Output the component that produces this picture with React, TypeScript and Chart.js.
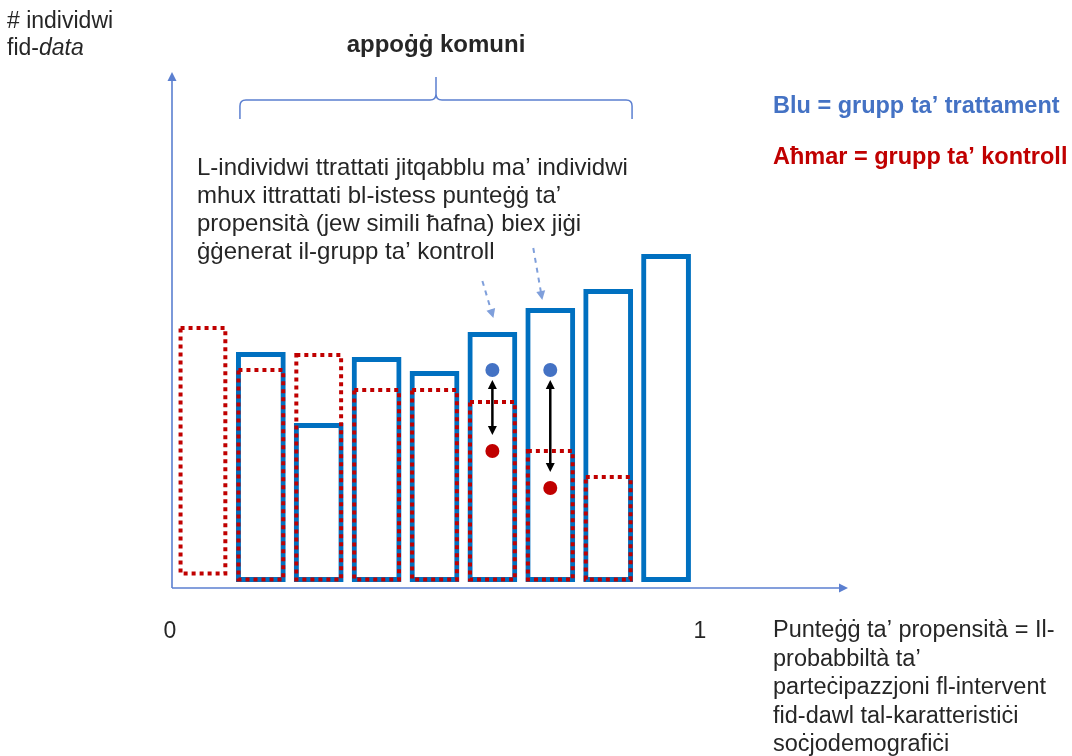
import React, { useEffect, useRef } from 'react';
import { Chart, registerables } from 'chart.js';

Chart.register(...registerables);

// Propensity-score bins (midpoints of 9 equal bins between 0 and 1)
const categories = ['0.06', '0.17', '0.28', '0.39', '0.50', '0.61', '0.72', '0.83', '0.94'];
// Number of individuals per bin (arbitrary units)
const treatedCounts = [null, 23.0, 15.9, 22.5, 21.1, 25.0, 27.4, 29.3, 32.8];
const controlCounts = [25.6, 21.4, 22.9, 19.4, 19.4, 18.2, 13.3, 10.7, null];
// Example matched individuals
const matchedTreated = [null, null, null, null, null, 21.2, 21.2, null, null];
const matchedControl = [null, null, null, null, null, 13.1, 9.4, null, null];
const scoreTicks = [0, 1];

const yTitle = ['# individwi', 'fid-'];
const yTitleItalic = 'data';
const braceLabel = 'appoġġ komuni';
const noteLines = [
  'L-individwi ttrattati jitqabblu ma’ individwi',
  'mhux ittrattati bl-istess punteġġ ta’',
  'propensità (jew simili ħafna) biex jiġi',
  'ġġenerat il-grupp ta’ kontroll',
];
const legendBlue = 'Blu = grupp ta’ trattament';
const legendRed = 'Aħmar = grupp ta’ kontroll';
const xTitleLines = [
  'Punteġġ ta’ propensità = Il-',
  'probabbiltà ta’',
  'parteċipazzjoni fl-intervent',
  'fid-dawl tal-karatteristiċi',
  'soċjodemografiċi',
];

const FONT = '"Liberation Sans", Arial, sans-serif';
const BLUE = '#0070C0';
const RED = '#C00000';
const AXIS = '#5B7FD0';
const TEXT = '#262626';

function arrowHead(ctx: CanvasRenderingContext2D, x1: number, y1: number, x2: number, y2: number, len: number, half: number) {
  const a = Math.atan2(y2 - y1, x2 - x1);
  const c = Math.cos(a);
  const s = Math.sin(a);
  ctx.beginPath();
  ctx.moveTo(x2, y2);
  ctx.lineTo(x2 - len * c + half * s, y2 - len * s - half * c);
  ctx.lineTo(x2 - len * c - half * s, y2 - len * s + half * c);
  ctx.closePath();
  ctx.fill();
}

const decorPlugin = {
  id: 'decor',
  beforeDatasetsDraw(chart: any) {
    const ctx: CanvasRenderingContext2D = chart.ctx;
    const ca = chart.chartArea;
    const ax = ca.left - 2;
    const ay = ca.bottom + 6;
    ctx.save();
    ctx.strokeStyle = AXIS;
    ctx.fillStyle = AXIS;
    ctx.lineWidth = 1.6;
    // y axis
    ctx.beginPath();
    ctx.moveTo(ax, ay);
    ctx.lineTo(ax, ca.top - 2);
    ctx.stroke();
    arrowHead(ctx, ax, ay, ax, ca.top - 10, 9, 4.5);
    // x axis
    ctx.beginPath();
    ctx.moveTo(ax, ay);
    ctx.lineTo(ca.right + 146, ay);
    ctx.stroke();
    arrowHead(ctx, ax, ay, ca.right + 153, ay, 9, 4.5);
    ctx.restore();
  },
  afterDatasetsDraw(chart: any) {
    const ctx: CanvasRenderingContext2D = chart.ctx;
    const ca = chart.chartArea;
    const blueMeta = chart.getDatasetMeta(0);
    const redMeta = chart.getDatasetMeta(1);
    const ptB = chart.getDatasetMeta(2);
    const ptR = chart.getDatasetMeta(3);
    ctx.save();

    // red dotted control bars
    ctx.strokeStyle = RED;
    ctx.lineWidth = 4;
    ctx.setLineDash([4, 4]);
    redMeta.data.forEach((el: any, i: number) => {
      if (controlCounts[i] == null) return;
      const p = el.getProps(['x', 'y', 'base', 'width'], true);
      const l = p.x - p.width / 2;
      const lift = i === 0 ? 6 : 0;
      ctx.strokeRect(l + 2.5, p.y + 2, p.width - 5, p.base - p.y - 4.5 - lift);
    });
    ctx.setLineDash([]);

    // double arrows between matched individuals
    ctx.strokeStyle = '#000';
    ctx.fillStyle = '#000';
    ctx.lineWidth = 2.5;
    ptB.data.forEach((el: any, i: number) => {
      if (matchedTreated[i] == null || matchedControl[i] == null) return;
      const b = el.getProps(['x', 'y'], true);
      const r = ptR.data[i].getProps(['x', 'y'], true);
      const y1 = b.y + 10;
      const y2 = r.y - 16;
      ctx.beginPath();
      ctx.moveTo(b.x, y1 + 6);
      ctx.lineTo(b.x, y2 - 6);
      ctx.stroke();
      arrowHead(ctx, b.x, y2, b.x, y1, 9, 4.5);
      arrowHead(ctx, b.x, y1, b.x, y2, 9, 4.5);
    });

    // dashed pointers from the note to the matched bins
    ctx.strokeStyle = '#7F9FDB';
    ctx.fillStyle = '#7F9FDB';
    ctx.lineWidth = 2;
    const pointerSpecs = [
      { i: 5, dx: 1, gap: 14, tx: -11, ty: -37 },
      { i: 6, dx: -8, gap: 8, tx: -9, ty: -52 },
    ];
    pointerSpecs.forEach((s) => {
      const p = blueMeta.data[s.i].getProps(['x', 'y'], true);
      const ex = p.x + s.dx;
      const ey = p.y - s.gap;
      const sx = ex + s.tx;
      const sy = ey + s.ty;
      ctx.setLineDash([5, 5]);
      ctx.beginPath();
      ctx.moveTo(sx, sy);
      const a = Math.atan2(ey - sy, ex - sx);
      ctx.lineTo(ex - 8 * Math.cos(a), ey - 8 * Math.sin(a));
      ctx.stroke();
      ctx.setLineDash([]);
      arrowHead(ctx, sx, sy, ex, ey, 9, 4.5);
    });

    // common-support brace over bins 2..8
    const b2 = blueMeta.data[1].getProps(['x', 'width'], true);
    const b8 = blueMeta.data[7].getProps(['x', 'width'], true);
    const L = b2.x - b2.width / 2 + 4;
    const R = b8.x + b8.width / 2 - 1;
    const C = (L + R) / 2;
    const by = ca.top + 18;
    ctx.strokeStyle = AXIS;
    ctx.lineWidth = 1.5;
    ctx.beginPath();
    ctx.moveTo(L, by + 19);
    ctx.lineTo(L, by + 6);
    ctx.quadraticCurveTo(L, by, L + 6, by);
    ctx.lineTo(C - 6, by);
    ctx.quadraticCurveTo(C, by, C, by - 6);
    ctx.lineTo(C, by - 23);
    ctx.moveTo(C, by - 6);
    ctx.quadraticCurveTo(C, by, C + 6, by);
    ctx.lineTo(R - 6, by);
    ctx.quadraticCurveTo(R, by, R, by + 6);
    ctx.lineTo(R, by + 19);
    ctx.stroke();

    // texts
    ctx.textBaseline = 'middle';
    ctx.fillStyle = TEXT;
    ctx.textAlign = 'center';
    ctx.font = `bold 24px ${FONT}`;
    ctx.fillText(braceLabel, C, 45);

    ctx.textAlign = 'left';
    ctx.font = `23px ${FONT}`;
    ctx.fillText(yTitle[0], 7, 22);
    ctx.fillText(yTitle[1], 7, 49);
    const w = ctx.measureText(yTitle[1]).width;
    ctx.font = `italic 23px ${FONT}`;
    ctx.fillText(yTitleItalic, 7 + w, 49);

    ctx.font = `24px ${FONT}`;
    noteLines.forEach((t, k) => ctx.fillText(t, 197, 168 + k * 28));

    ctx.font = `bold 23.5px ${FONT}`;
    ctx.fillStyle = '#4472C4';
    ctx.fillText(legendBlue, 773, 107);
    ctx.fillStyle = RED;
    ctx.fillText(legendRed, 773, 158);

    ctx.fillStyle = TEXT;
    ctx.font = `23.5px ${FONT}`;
    xTitleLines.forEach((t, k) => ctx.fillText(t, 773, 631 + k * 28.5));

    // 0 and 1 on the propensity-score axis
    const sx = chart.scales.score;
    ctx.textAlign = 'center';
    ctx.font = `23px ${FONT}`;
    scoreTicks.forEach((v) => ctx.fillText(String(v), sx.getPixelForValue(v) + (v === 0 ? -4 : 5), 632));

    ctx.restore();
  },
};

export default function App() {
  const ref = useRef<HTMLCanvasElement>(null);
  useEffect(() => {
    const chart = new Chart(ref.current as HTMLCanvasElement, {
      type: 'bar',
      data: {
        labels: categories,
        datasets: [
          {
            label: 'Blu = grupp ta’ trattament',
            data: treatedCounts,
            backgroundColor: 'rgba(0,0,0,0)',
            borderColor: BLUE,
            borderWidth: 5,
            borderSkipped: false,
            inflateAmount: 0,
            grouped: false,
            barPercentage: 0.86,
            categoryPercentage: 1,
          } as any,
          {
            label: 'Aħmar = grupp ta’ kontroll',
            data: controlCounts,
            backgroundColor: 'rgba(0,0,0,0)',
            borderWidth: 0,
            inflateAmount: 0,
            grouped: false,
            barPercentage: 0.86,
            categoryPercentage: 1,
          } as any,
          {
            type: 'line',
            label: 'treated match',
            data: matchedTreated,
            showLine: false,
            pointRadius: 7,
            pointBorderWidth: 0,
            pointBackgroundColor: '#4472C4',
            pointBorderColor: '#4472C4',
          } as any,
          {
            type: 'line',
            label: 'control match',
            data: matchedControl,
            showLine: false,
            pointRadius: 7,
            pointBorderWidth: 0,
            pointBackgroundColor: RED,
            pointBorderColor: RED,
          } as any,
        ],
      },
      options: {
        responsive: false,
        animation: false,
        layout: { padding: { left: 174, right: 377, top: 82, bottom: 174 } },
        plugins: { legend: { display: false }, tooltip: { enabled: false } },
        scales: {
          x: { type: 'category', display: false, offset: true },
          score: { type: 'linear', axis: 'x', min: 0, max: 1, display: false, offset: false },
          y: { type: 'linear', min: 0, max: 50, display: false },
        },
      },
      plugins: [decorPlugin],
    } as any);
    return () => chart.destroy();
  }, []);
  return (
    <div style={{ position: 'absolute', left: 0, top: 0, width: 1072, height: 756, background: '#fff' }}>
      <canvas ref={ref} width={1072} height={756} style={{ display: 'block' }} />
    </div>
  );
}
